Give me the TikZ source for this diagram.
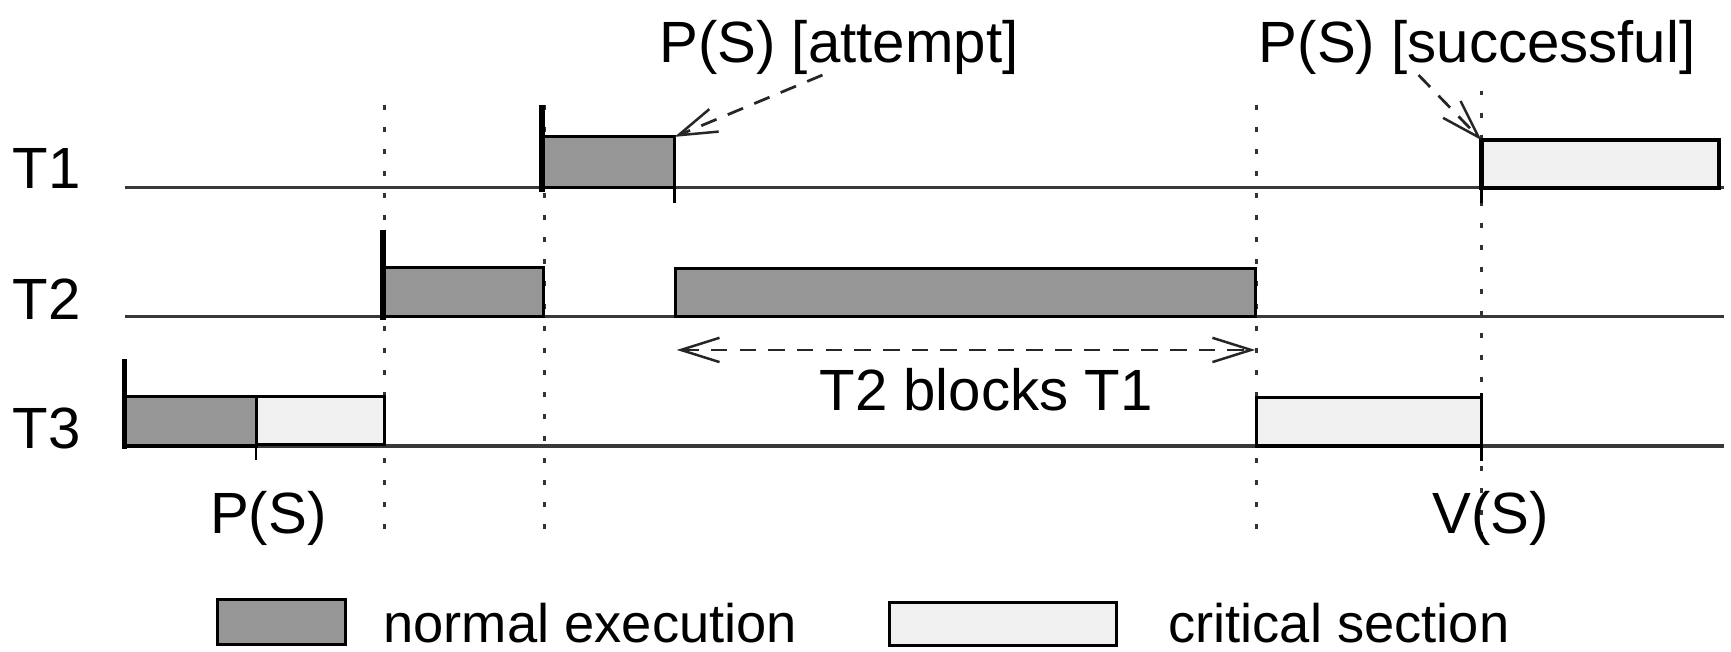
\documentclass[tikz,border=0pt]{standalone}
\usepackage{fontspec}
\setmainfont{Liberation Sans}
\usetikzlibrary{arrows.meta}
\definecolor{execgray}{gray}{0.59}
\definecolor{critgray}{gray}{0.94}
\begin{document}
\begin{tikzpicture}[x=0.02cm,y=-0.02cm,
  lbl/.style={font=\fontsize{30}{35}\selectfont, inner sep=0pt, anchor=base west},
  lgd/.style={font=\fontsize{28}{33}\selectfont, inner sep=0pt, anchor=base west, text depth=0pt},
  baseline/.style={line width=0.055cm, draw=black!78},
  vdot/.style={line width=0.055cm, draw=black!80, dash pattern=on 0.09cm off 0.31cm},
  normalbox/.style={fill=execgray, draw=black, line width=0.055cm},
  critbox/.style={fill=critgray, draw=black, line width=0.055cm},
  startbar/.style={line width=0.095cm, draw=black},
  tickmark/.style={line width=0.045cm, draw=black},
  dasharrow/.style={line width=0.05cm, draw=black!85, dash pattern=on 0.3cm off 0.22cm,
    -{Straight Barb[length=0.7cm,width=0.44cm,line width=0.045cm]}},
  dashboth/.style={line width=0.05cm, draw=black!85, dash pattern=on 0.3cm off 0.22cm,
    {Straight Barb[length=0.7cm,width=0.44cm,line width=0.045cm]}-{Straight Barb[length=0.7cm,width=0.44cm,line width=0.045cm]}},
]
\useasboundingbox (0,0) rectangle (1568,590);

% task labels
\node[lbl] (lt1) at (11,171) {T1};
\node[lbl] (lt2) at (11,289) {T2};
\node[lbl] (lt3) at (11,406) {T3};

% time axes
\coordinate (t1s) at (113,170); \coordinate (t1e) at (1562,170);
\coordinate (t2s) at (113,287); \coordinate (t2e) at (1562,287);
\coordinate (t3s) at (113,404); \coordinate (t3e) at (1562,404);
\draw[baseline] (t1s) -- (t1e);
\draw[baseline] (t2s) -- (t2e);
\draw[baseline] (t3s) -- (t3e);

% dotted time markers
\foreach \xx/\nm in {348/d1, 493/d2, 1138/d3} {
  \coordinate (\nm top) at (\xx,95); \coordinate (\nm bot) at (\xx,490);
  \draw[vdot] (\nm top) -- (\nm bot);
}
\coordinate (d4top) at (1342,82); \coordinate (d4bot) at (1342,490);
\draw[vdot] (d4top) -- (d4bot);

% T3
\draw[normalbox] (113,359) rectangle (232,404);
\draw[critbox] (232,359) rectangle (348,403);
\draw[critbox] (1138,360) rectangle (1342,404);
\coordinate (b3top) at (113,325); \coordinate (b3bot) at (113,407);
\draw[startbar] (b3top) -- (b3bot);
\coordinate (k3a) at (232,359); \coordinate (k3b) at (232,417);
\draw[tickmark] (k3a) -- (k3b);
\coordinate (k3c) at (1342,356); \coordinate (k3d) at (1342,418);
\draw[tickmark] (k3c) -- (k3d);

% T2
\draw[normalbox] (347,242) rectangle (492,287);
\draw[normalbox] (612,243) rectangle (1137,287);
\coordinate (b2top) at (347,208); \coordinate (b2bot) at (347,290);
\draw[startbar] (b2top) -- (b2bot);

% T1
\draw[normalbox] (491,124) rectangle (611,170);
\draw[critbox, line width=0.075cm] (1342,127) rectangle (1557,170);
\coordinate (b1top) at (491,95); \coordinate (b1bot) at (491,174);
\draw[startbar] (b1top) -- (b1bot);
\coordinate (k1a) at (611,124); \coordinate (k1b) at (611,184);
\draw[tickmark] (k1a) -- (k1b);
\coordinate (k1c) at (1342,127); \coordinate (k1d) at (1342,184);
\draw[tickmark] (k1c) -- (k1d);

% annotations
\node[lbl] (patt) at (597,57) {P(S) [attempt]};
\node[lbl] (psucc) at (1140,57) {P(S) [successful]};
\coordinate (pattfrom) at (745,68);
\coordinate (psuccfrom) at (1285,68);
\draw[dasharrow] (pattfrom) -- (k1a);
\draw[dasharrow] (psuccfrom) -- (k1c);

\coordinate (blkl) at (613,317); \coordinate (blkr) at (1137,317);
\draw[dashboth] (blkl) -- (blkr);
\node[lbl] (blk) at (742,372) {T2 blocks T1};

\node[lbl] (ps) at (190,483) {P(S)};
\node[lbl] (vs) at (1297,483) {V(S)};

% legend
\draw[normalbox] (197,543) rectangle (313,584);
\node[lgd] (lgn) at (347,582) {normal execution};
\draw[critbox] (806,546) rectangle (1011,585);
\node[lgd] (lgc) at (1058,582) {critical section};
\end{tikzpicture}
\end{document}
